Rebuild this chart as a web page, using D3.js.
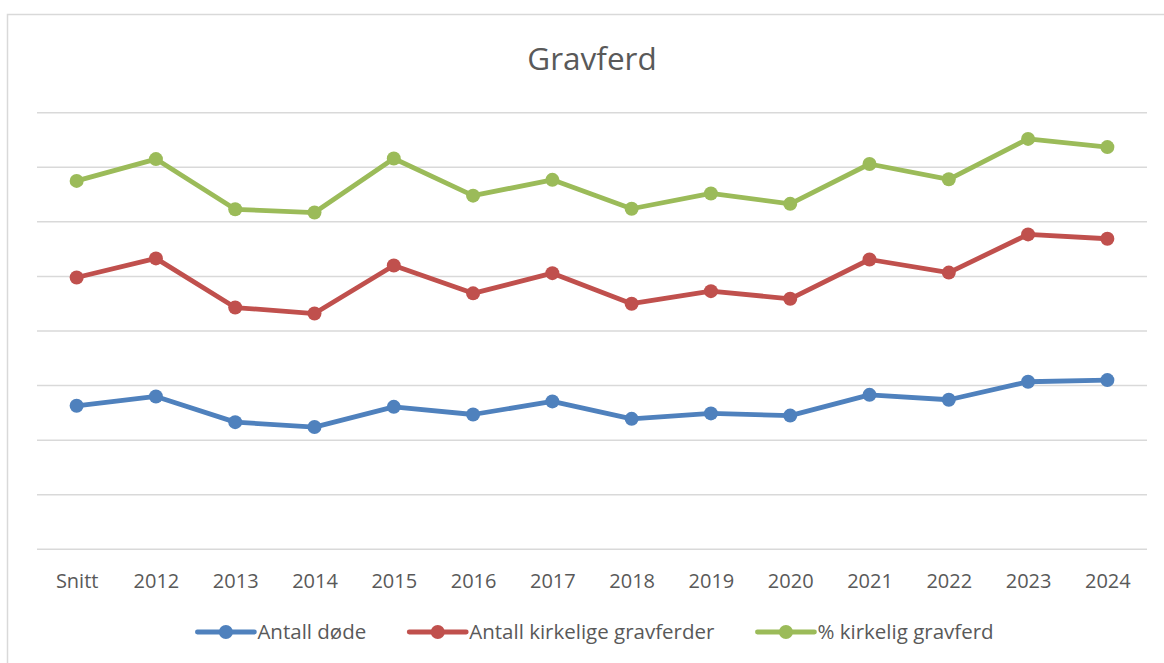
<!DOCTYPE html>
<html>
<head>
<meta charset="utf-8">
<script src="https://cdn.jsdelivr.net/npm/d3@7"></script>
<style>
  body { margin: 0; background: #fff; }
  text { font-family: "Open Sans", sans-serif; fill: #595959; }
</style>
</head>
<body>
<svg id="chart" width="1164" height="663"></svg>
<script>
// kategorier og verdier (lest av bildet, skala uten tall)
const categories = ["Snitt", "2012", "2013", "2014", "2015", "2016", "2017", "2018", "2019", "2020", "2021", "2022", "2023", "2024"];
const antallDode = [26.3, 28.0, 23.3, 22.4, 26.1, 24.7, 27.1, 23.9, 24.9, 24.5, 28.3, 27.4, 30.7, 31.0];
const antallKirkelige = [49.8, 53.3, 44.3, 43.2, 52.0, 46.9, 50.6, 45.0, 47.3, 45.9, 53.1, 50.7, 57.7, 56.9];
const prosentKirkelig = [67.5, 71.5, 62.3, 61.7, 71.6, 64.8, 67.7, 62.4, 65.2, 63.3, 70.6, 67.8, 75.2, 73.7];
const yTicks = [0, 10, 20, 30, 40, 50, 60, 70, 80];

const seriesNames = ["Antall døde", "Antall kirkelige gravferder", "% kirkelig gravferd"];
const colors = ["#4f81bd", "#c0504d", "#9bbb59"];

const svg = d3.select("#chart");
const plotLeft = 37, plotRight = 1147, plotTop = 112.7, plotBottom = 549.3;

// ramme (bare topp og venstre synlig i utsnittet)
svg.append("rect")
  .attr("x", 7.5).attr("y", 14.5)
  .attr("width", 1200).attr("height", 700)
  .attr("fill", "none")
  .attr("stroke", "#d9d9d9")
  .attr("stroke-width", 1.5);

const x = d3.scalePoint()
  .domain(categories)
  .range([plotLeft, plotRight])
  .padding(0.5);

const y = d3.scaleLinear()
  .domain([0, 80])
  .range([plotBottom, plotTop]);

// rutenett
svg.append("g")
  .selectAll("line")
  .data(yTicks)
  .enter()
  .append("line")
  .attr("x1", plotLeft).attr("x2", plotRight)
  .attr("y1", d => y(d)).attr("y2", d => y(d))
  .attr("stroke", "#d9d9d9")
  .attr("stroke-width", 1.5);

// x-akse
const xAxis = svg.append("g")
  .attr("transform", `translate(0, ${plotBottom})`)
  .call(d3.axisBottom(x).tickSize(0).tickPadding(0));
xAxis.select(".domain").remove();
xAxis.selectAll("text")
  .attr("y", 0)
  .attr("dy", 0)
  .attr("transform", "translate(0, 39)")
  .style("font-family", "'Open Sans', sans-serif")
  .style("font-size", "20px")
  .style("fill", "#595959");

// tittel
svg.append("text")
  .attr("x", 592)
  .attr("y", 70)
  .attr("text-anchor", "middle")
  .style("font-size", "31.5px")
  .text("Gravferd");

// linjer
const allSeries = [antallDode, antallKirkelige, prosentKirkelig];
const line = d3.line()
  .x((d, i) => x(categories[i]))
  .y(d => y(d));

allSeries.forEach((values, s) => {
  const g = svg.append("g");
  g.append("path")
    .datum(values)
    .attr("d", line)
    .attr("fill", "none")
    .attr("stroke", colors[s])
    .attr("stroke-width", 4.8)
    .attr("stroke-linejoin", "round")
    .attr("stroke-linecap", "round");
  g.selectAll("circle")
    .data(values)
    .enter()
    .append("circle")
    .attr("cx", (d, i) => x(categories[i]))
    .attr("cy", d => y(d))
    .attr("r", 7)
    .attr("fill", colors[s]);
});

// forklaring
const legend = svg.append("g");
const lineLen = 57, textGap = 3, itemGap = 43, legendY = 632;
let items = [];
let total = 0;
seriesNames.forEach((name, i) => {
  const it = legend.append("g");
  const t = it.append("text")
    .attr("x", lineLen + textGap)
    .attr("y", legendY + 7)
    .style("font-size", "20.5px")
    .text(name);
  const w = t.node().getComputedTextLength();
  it.append("line")
    .attr("x1", 0).attr("x2", lineLen)
    .attr("y1", legendY).attr("y2", legendY)
    .attr("stroke", colors[i])
    .attr("stroke-width", 4.8)
    .attr("stroke-linecap", "round");
  it.append("circle")
    .attr("cx", lineLen / 2).attr("cy", legendY)
    .attr("r", 7)
    .attr("fill", colors[i]);
  items.push({ g: it, w: lineLen + textGap + w });
  total += lineLen + textGap + w;
});
total += itemGap * (items.length - 1);
let cx = 595.5 - total / 2;
items.forEach(d => {
  d.g.attr("transform", `translate(${cx}, 0)`);
  cx += d.w + itemGap;
});
</script>
</body>
</html>
